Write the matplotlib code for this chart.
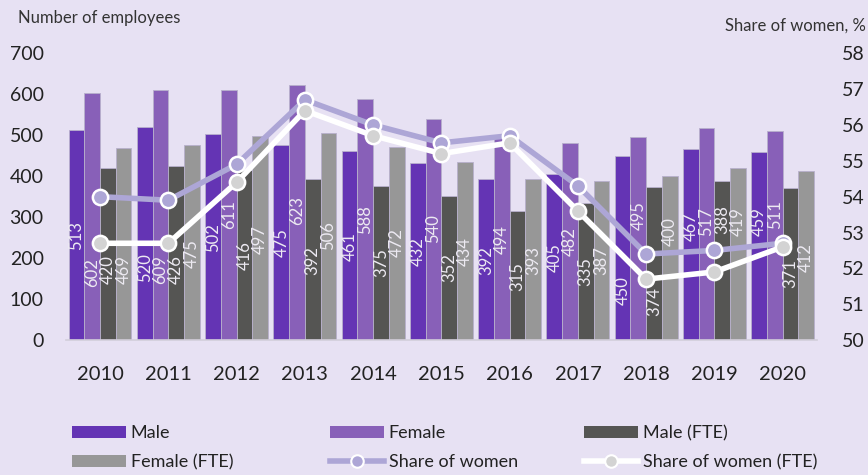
import numpy as np
import matplotlib.pyplot as plt
from matplotlib.patches import Patch
from matplotlib.lines import Line2D

plt.rcParams["font.family"] = ["Lato", "DejaVu Sans"]

years = ["2010", "2011", "2012", "2013", "2014", "2015", "2016", "2017", "2018", "2019", "2020"]
male = [513, 520, 502, 475, 461, 432, 392, 405, 450, 467, 459]
female = [602, 609, 611, 623, 588, 540, 494, 482, 495, 517, 511]
male_fte = [420, 426, 416, 392, 375, 352, 315, 335, 374, 388, 371]
female_fte = [469, 475, 497, 506, 472, 434, 393, 387, 400, 419, 412]
share_women = [54.0, 53.9, 54.9, 56.7, 56.0, 55.5, 55.7, 54.3, 52.4, 52.5, 52.7]
share_women_fte = [52.7, 52.7, 54.4, 56.4, 55.7, 55.2, 55.5, 53.6, 51.7, 51.9, 52.6]

# heights (left-axis units) where the value labels sit, moved off the lines
lab_male = [254, 176, 251, 237, 229, 217, 195, 202, 122, 276, 290]
lab_female = [166, 173, 307, 315, 295, 271, 246, 241, 305, 288, 307]
lab_male_fte = [173, 173, 207, 195, 190, 176, 156, 168, 95, 293, 163]
lab_female_fte = [173, 212, 246, 254, 237, 217, 195, 193, 266, 288, 202]

bg = "#E7E1F3"
c_male = "#6434B4"
c_female = "#8860B8"
c_male_fte = "#555553"
c_female_fte = "#979797"
c_share = "#ADA6D6"
c_share_fte = "#FFFFFF"

fig = plt.figure(figsize=(8.68, 4.75), dpi=100, facecolor=bg)
ax = fig.add_axes([0.076, 0.284, 0.865, 0.604], facecolor=bg)
ax2 = ax.twinx()

x = np.arange(len(years))
w = 0.23
series = [(male, lab_male, c_male), (female, lab_female, c_female),
          (male_fte, lab_male_fte, c_male_fte), (female_fte, lab_female_fte, c_female_fte)]
for i, (vals, labpos, col) in enumerate(series):
    pos = x + (i - 1.5) * w
    ax.bar(pos, vals, w, color=col, edgecolor="#B8B0CC", linewidth=0.6, zorder=2)
    for p, v, ly in zip(pos, vals, labpos):
        ax.text(p, ly, str(v), rotation=90, ha="center", va="center",
                color="#EDEAF2", fontsize=12, zorder=3)

ax.set_ylim(0, 700)
ax.set_xlim(-0.5, len(years) - 0.5)
ax.set_yticks(range(0, 701, 100))
ax.set_xticks(x)
ax.set_xticklabels(years)
ax.tick_params(axis="y", length=0, pad=16, labelsize=14, labelcolor="#222222")
ax.tick_params(axis="x", length=0, pad=19, labelsize=14.5, labelcolor="#222222")
for s in ["top", "left", "right"]:
    ax.spines[s].set_visible(False)
ax.spines["bottom"].set_color("#D2CEDA")
ax.spines["bottom"].set_linewidth(1.2)

ax2.plot(x, share_women, color=c_share, lw=4, marker="o", ms=11,
         mfc=c_share, mec="white", mew=1.8, zorder=5)
ax2.plot(x, share_women_fte, color=c_share_fte, lw=4, marker="o", ms=11,
         mfc="#D3D3D3", mec="white", mew=1.8, zorder=6)
ax2.set_ylim(50, 58)
ax2.set_yticks(range(50, 59))
ax2.tick_params(axis="y", length=0, pad=18, labelsize=14, labelcolor="#222222")
for s in ["top", "left", "right", "bottom"]:
    ax2.spines[s].set_visible(False)

fig.text(0.021, 0.963, "Number of employees", fontsize=12, color="#333333", va="center")
fig.text(0.997, 0.947, "Share of women, %", fontsize=12, color="#333333", va="center", ha="right")

# legend entries placed one by one
entries = [
    (Patch(facecolor=c_male), "Male", 0.083, 0.088),
    (Patch(facecolor=c_female), "Female", 0.380, 0.088),
    (Patch(facecolor=c_male_fte), "Male (FTE)", 0.673, 0.088),
    (Patch(facecolor=c_female_fte), "Female (FTE)", 0.083, 0.027),
    (Line2D([], [], color=c_share, lw=4, marker="o", ms=9, mfc=c_share, mec="white", mew=1.5),
     "Share of women", 0.380, 0.027),
    (Line2D([], [], color="white", lw=4, marker="o", ms=9, mfc="#D3D3D3", mec="white", mew=1.5),
     "Share of women (FTE)", 0.673, 0.027),
]
for h, lab, lx, ly in entries:
    fig.legend(handles=[h], labels=[lab], loc="center left", bbox_to_anchor=(lx, ly),
               frameon=False, fontsize=13, handlelength=3.0, handletextpad=0.25,
               borderpad=0, borderaxespad=0, labelcolor="#222222")

fig.savefig("out.png", dpi=100, facecolor=bg)
